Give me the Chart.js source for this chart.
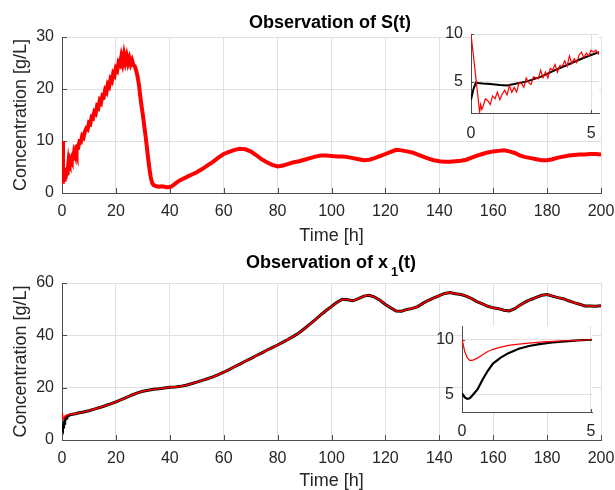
<!DOCTYPE html>
<html>
<head>
<meta charset="utf-8">
<script src="https://cdn.jsdelivr.net/npm/chart.js@4.4.1/dist/chart.umd.min.js"></script>
<style>
  body { margin: 0; background: #fff; }
  #fig { position: relative; width: 615px; height: 490px; overflow: hidden; background: #fff; }
  #fig canvas { position: absolute; }
</style>
</head>
<body>
<div id="fig">
  <canvas id="sMain" width="615" height="245" style="left:0;top:0"></canvas>
  <canvas id="xMain" width="615" height="245" style="left:0;top:245px"></canvas>
  <canvas id="sZoom" width="200" height="135" style="left:410px;top:14px"></canvas>
  <canvas id="xZoom" width="210" height="135" style="left:400px;top:310px"></canvas>
</div>
<script>
// substrate S(t): measured (red) and observer estimate (black)
const sTime = [0, 0.36, 0.4, 0.45, 0.5, 0.6, 0.7, 0.8, 0.9, 1.0, 1.1, 1.2, 1.3, 1.4, 1.5, 1.6, 1.7, 1.8, 1.9, 2.0,
  2.1, 2.2, 2.3, 2.4, 2.5, 2.6, 2.7, 2.8, 2.9, 3.0, 3.1, 3.2, 3.3, 3.4, 3.5, 3.6, 3.7, 3.8, 3.9, 4.0,
  4.1, 4.2, 4.3, 4.4, 4.5, 4.6, 4.7, 4.8, 4.9, 5.0, 5.1, 5.2, 5.3,
  5.5, 6, 6.5, 7, 7.5, 8, 8.5, 9, 9.5, 10, 10.5, 11, 11.5, 12, 12.5, 13, 13.5, 14, 14.5, 15,
  15.5, 16, 16.5, 17, 17.5, 18, 18.5, 19, 19.5, 20, 20.5, 21, 21.5, 22, 22.5, 23, 23.5, 24, 24.5, 25,
  25.5, 26, 26.5, 27, 27.5, 28, 28.5, 29, 29.5, 30, 30.5, 31, 31.5, 32, 32.5, 33, 33.5, 34,
  35, 36, 37, 38, 39, 40, 41, 42, 43, 44,
  46, 48, 50, 52, 54, 56, 58, 60, 62, 64, 66, 68, 70, 72, 74, 76, 78, 80, 82, 84, 86, 88, 90, 92,
  94, 96, 98, 100, 102, 104, 106, 108, 110, 112, 114, 116, 118, 120, 122, 124, 126, 128, 130, 132,
  134, 136, 138, 140, 142, 144, 146, 148, 150, 152, 154, 156, 158, 160, 162, 164, 166, 168, 170, 172,
  174, 176, 178, 180, 182, 184, 186, 188, 190, 192, 194, 196, 198, 200];
const sMeasured = [10, 1.8, 2.6, 2.1, 2.4, 3.2, 3.0, 2.6, 3.5, 3.2, 3.9, 3.1, 3.7, 4.1, 3.6, 4.6, 3.9, 4.4, 3.9, 4.9,
  4.8, 4.4, 5.4, 4.9, 4.7, 5.5, 5.4, 5.3, 6.2, 5.4, 6.0, 5.4, 6.4, 6.2, 6.8, 6.0, 6.7, 6.6, 7.2, 6.6,
  7.7, 6.9, 7.4, 7.0, 7.8, 8.1, 7.5, 8.0, 7.7, 8.3, 8.1, 8.3, 7.9,
  8.8, 8.7, 9.9, 9.8, 11.0, 10.7, 11.8, 12.4, 12.2, 13.5, 13.3, 14.6, 14.4, 15.6, 15.3, 16.7, 16.4, 17.8, 17.4, 18.7,
  18.5, 19.8, 19.4, 20.9, 20.5, 21.9, 21.5, 23.0, 22.6, 24.0, 23.6, 25.1, 24.7, 26.2, 25.0, 26.6, 25.2, 26.3, 25.0, 25.9,
  24.8, 25.5, 24.6, 24.4, 23.6, 22.5, 21.0, 18.8, 16.8, 15.0, 13.0, 11.0, 8.8, 6.5, 4.5, 2.8, 1.9, 1.5,
  1.3, 1.2, 1.3, 1.2, 1.1, 1.15, 1.4, 1.8, 2.2, 2.5,
  3.0, 3.5, 4.0, 4.6, 5.3, 6.0, 6.8, 7.5, 7.9, 8.3, 8.5, 8.4, 8.0, 7.3, 6.5, 5.9, 5.4, 5.1, 5.3, 5.6, 5.9, 6.1, 6.4, 6.7,
  7.0, 7.2, 7.2, 7.1, 7.0, 7.0, 6.9, 6.7, 6.5, 6.3, 6.4, 6.7, 7.1, 7.5, 7.9, 8.3, 8.2, 8.0, 7.8, 7.4,
  7.0, 6.6, 6.3, 6.1, 6.0, 6.0, 6.1, 6.2, 6.4, 6.8, 7.2, 7.5, 7.8, 8.0, 8.1, 8.2, 8.0, 7.7, 7.2, 6.9,
  6.7, 6.5, 6.3, 6.3, 6.5, 6.8, 7.0, 7.2, 7.3, 7.4, 7.4, 7.5, 7.5, 7.4];
const sEstTime = [0, 0.1, 0.2, 0.3, 0.5, 0.8, 1.2, 1.5, 1.9, 2.3, 2.9, 3.5, 4.0, 4.5, 5.0, 5.33];
const sEstimate = [3.1, 4.2, 4.9, 4.85, 4.8, 4.75, 4.65, 4.6, 4.8, 5.0, 5.5, 6.2, 6.75, 7.3, 7.8, 8.1];

// biomass x1(t)
const x1EarlyTime = [0, 0.1, 0.2, 0.3, 0.4, 0.6, 0.8, 1.0, 1.2, 1.5, 1.8, 2.2, 2.6, 3.0, 3.5, 4.0, 4.5, 5.0];
const x1MeasuredEarly = [10.1, 9.0, 8.4, 8.15, 8.15, 8.35, 8.65, 8.95, 9.15, 9.35, 9.5, 9.62, 9.72, 9.8, 9.87, 9.93, 9.97, 10.02];
const x1EstimateEarly = [5.15, 4.8, 4.65, 4.7, 4.95, 5.5, 6.4, 7.2, 7.85, 8.4, 8.8, 9.2, 9.45, 9.62, 9.78, 9.88, 9.96, 10.02];
const x1LateTime = [6, 8, 10, 12, 14, 16, 18, 20, 22, 24, 26, 28, 30, 32, 34, 36, 38, 40, 42, 44,
  46, 48, 50, 52, 54, 56, 58, 60, 62, 64, 66, 68, 70, 72, 74, 76, 78, 80, 82, 84,
  86, 88, 90, 92, 94, 96, 98, 100, 102, 104, 106, 108, 110, 112, 114, 116, 118, 120, 122, 124,
  126, 128, 130, 132, 134, 136, 138, 140, 142, 144, 146, 148, 150, 152, 154, 156, 158, 160, 162, 164,
  166, 168, 170, 172, 174, 176, 178, 180, 182, 184, 186, 188, 190, 192, 194, 196, 198, 200];
const x1Late = [10.3, 10.7, 11.2, 11.8, 12.4, 13.1, 13.8, 14.6, 15.4, 16.3, 17.2, 18.0, 18.6, 19.0, 19.4, 19.6, 19.9, 20.2, 20.3, 20.5,
  20.9, 21.5, 22.1, 22.8, 23.4, 24.1, 25.0, 25.9, 26.9, 28.0, 29.0, 30.1, 31.1, 32.2, 33.2, 34.3, 35.3, 36.3, 37.4, 38.5,
  39.7, 41.0, 42.6, 44.3, 46.0, 47.8, 49.5, 51.0, 52.6, 53.8, 53.6, 53.2, 54.0, 55.0, 55.3, 54.6, 53.4, 51.8, 50.5, 49.3,
  49.2, 49.9, 50.3, 51.0, 52.3, 53.4, 54.3, 55.2, 56.0, 56.4, 55.9, 55.6, 55.0, 54.0, 52.9, 52.0, 51.1, 50.5, 50.2, 49.6,
  49.3, 50.2, 51.6, 52.8, 53.7, 54.5, 55.3, 55.6, 55.0, 54.4, 54.0, 53.2, 52.5, 51.9, 51.2, 51.2, 51.1, 51.3];
const x1Time = x1EarlyTime.concat(x1LateTime);
const x1Measured = x1MeasuredEarly.concat(x1Late);
const x1Estimate = x1EstimateEarly.concat(x1Late);

const GRID = '#e0e0e0';
const AXIS = '#4d4d4d';
const INK = '#262626';

Chart.defaults.font.family = '"Liberation Sans", Arial, Helvetica, sans-serif';
Chart.defaults.color = INK;
Chart.defaults.animation = false;
Chart.defaults.plugins.legend.display = false;
Chart.defaults.plugins.tooltip.enabled = false;

function pts(xs, ys) {
  return xs.map((t, i) => ({ x: t, y: ys[i] }));
}

function line(data, color, width) {
  return { data: data, borderColor: color, borderWidth: width, pointRadius: 0, tension: 0, fill: false };
}

// matlab style ticks pointing into the axes
function innerTicks(len) {
  return {
    id: 'innerTicks',
    beforeDatasetsDraw(chart) {
      const { ctx, chartArea: a, scales: { x, y } } = chart;
      ctx.save();
      ctx.strokeStyle = AXIS;
      ctx.lineWidth = 1;
      ctx.beginPath();
      x.ticks.forEach(t => {
        const px = Math.round(x.getPixelForValue(t.value)) + 0.5;
        ctx.moveTo(px, a.bottom);
        ctx.lineTo(px, a.bottom - len);
      });
      y.ticks.forEach(t => {
        const py = Math.round(y.getPixelForValue(t.value)) + 0.5;
        ctx.moveTo(a.left, py);
        ctx.lineTo(a.left + len, py);
      });
      ctx.stroke();
      ctx.restore();
    }
  };
}

const whiteArea = {
  id: 'whiteArea',
  beforeDraw(chart) {
    const { ctx, chartArea: a } = chart;
    ctx.save();
    ctx.fillStyle = '#fff';
    ctx.fillRect(a.left, a.top, a.right - a.left, a.bottom - a.top);
    ctx.restore();
  }
};

// title with an optional subscript part
function figTitle(parts, cx, baseline) {
  return {
    id: 'figTitle',
    afterDraw(chart) {
      const ctx = chart.ctx;
      const fam = Chart.defaults.font.family;
      const fontOf = p => 'bold ' + (p.sub ? 12.6 : 18) + 'px ' + fam;
      ctx.save();
      ctx.fillStyle = '#000';
      ctx.textAlign = 'left';
      ctx.textBaseline = 'alphabetic';
      let total = 0;
      parts.forEach(p => { ctx.font = fontOf(p); total += (p.gap || 0) + ctx.measureText(p.text).width; });
      let x = cx - total / 2;
      parts.forEach(p => {
        ctx.font = fontOf(p);
        x += p.gap || 0;
        ctx.fillText(p.text, x, baseline + (p.sub ? 8 : 0));
        x += ctx.measureText(p.text).width;
      });
      ctx.restore();
    }
  };
}

// box = canvas size and wanted plot area inside it
function options(box, xr, yr, xStep, yStep, opt) {
  return {
    responsive: false,
    layout: { autoPadding: false, padding: { left: 0, top: box.top, right: box.w - box.right, bottom: 0 } },
    scales: {
      x: {
        type: 'linear', min: xr[0], max: xr[1],
        afterFit: s => { s.height = box.h - box.bottom; s.paddingLeft = 0; s.paddingRight = 0; },
        grid: { color: GRID, drawTicks: false },
        border: { color: AXIS },
        ticks: { stepSize: xStep, padding: opt.xPad, includeBounds: false, maxRotation: 0, autoSkip: false, font: { size: 16 } },
        title: opt.labels
          ? { display: true, text: 'Time [h]', font: { size: 18 }, padding: { top: 0, bottom: -2 } }
          : { display: false }
      },
      y: {
        min: yr[0], max: yr[1],
        afterFit: s => { s.width = box.left; s.paddingTop = 0; s.paddingBottom = 0; },
        grid: { color: GRID, drawTicks: false },
        border: { color: AXIS },
        ticks: { stepSize: yStep, padding: 8, includeBounds: false, font: { size: 16 } },
        title: opt.labels
          ? { display: true, text: 'Concentration [g/L]', font: { size: 18 }, padding: { top: 10.4, bottom: 0 } }
          : { display: false }
      }
    }
  };
}

new Chart(document.getElementById('sMain'), {
  type: 'line',
  data: { datasets: [
    line(pts(sTime, sMeasured), '#ff0000', 4),
    line(pts(sEstTime, sEstimate), '#000000', 2)
  ] },
  options: options({ w: 615, h: 245, left: 62, top: 37, right: 601, bottom: 193 }, [0, 200], [0, 30], 20, 10, { xPad: 9, labels: true }),
  plugins: [innerTicks(5), figTitle([{ text: 'Observation of S(t)' }], 330, 28.3)]
});

new Chart(document.getElementById('xMain'), {
  type: 'line',
  data: { datasets: [
    line(pts(x1Time, x1Measured), '#ff0000', 1.6),
    line(pts(x1Time, x1Estimate), '#000000', 3)
  ] },
  options: options({ w: 615, h: 245, left: 62, top: 38, right: 601, bottom: 195 }, [0, 200], [0, 60], 20, 20, { xPad: 9, labels: true }),
  plugins: [innerTicks(5), figTitle([{ text: 'Observation of x' }, { text: '1', sub: true, gap: 3 }, { text: '(t)' }], 331, 22.5)]
});

new Chart(document.getElementById('sZoom'), {
  type: 'line',
  data: { datasets: [
    line(pts(sTime, sMeasured), '#ff0000', 1.2),
    line(pts(sEstTime, sEstimate), '#000000', 2)
  ] },
  options: options({ w: 200, h: 135, left: 61, top: 20, right: 189, bottom: 99 }, [0, 5.33], [1.71, 10], 5, 5, { xPad: 11, labels: false }),
  plugins: [whiteArea, innerTicks(3)]
});

new Chart(document.getElementById('xZoom'), {
  type: 'line',
  data: { datasets: [
    line(pts(x1Time, x1Measured), '#ff0000', 1.2),
    line(pts(x1Time, x1Estimate), '#000000', 2.2)
  ] },
  options: options({ w: 210, h: 135, left: 62, top: 16, right: 192, bottom: 102 }, [0, 5.04], [3.45, 11.27], 5, 5, { xPad: 10, labels: false }),
  plugins: [whiteArea, innerTicks(3)]
});
</script>
</body>
</html>
